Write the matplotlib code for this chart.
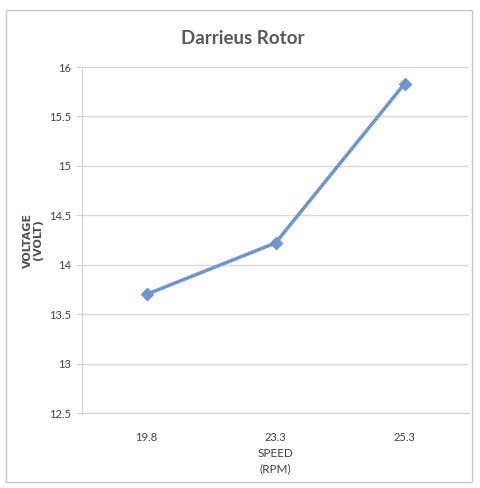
import matplotlib
matplotlib.use('Agg')
import matplotlib.pyplot as plt
from matplotlib.patches import Rectangle

plt.rcParams['font.family'] = ['Lato', 'DejaVu Sans']

speeds = ['19.8', '23.3', '25.3']
voltage = [13.7, 14.22, 15.83]
yticks = [12.5, 13, 13.5, 14, 14.5, 15, 15.5, 16]

fig = plt.figure(figsize=(4.8, 4.88), dpi=100)
# outer chart frame
fig.patches.append(Rectangle((6 / 480, 6 / 488), 466 / 480, 472 / 488,
                             transform=fig.transFigure, fill=False,
                             edgecolor='#c8c8c8', linewidth=1))

ax = fig.add_axes([82 / 480, 75 / 488, 387 / 480, 346 / 488])
x = list(range(len(speeds)))
ax.plot(x, voltage, color='#6b96cf', linewidth=2.5, marker='D',
        markersize=6, zorder=3)

ax.set_xlim(-0.5, len(speeds) - 0.5)
ax.set_ylim(12.5, 16)
ax.set_xticks(x)
ax.set_xticklabels(speeds)
ax.set_yticks(yticks)
ax.set_yticklabels([f'{v:g}' for v in yticks])
ax.grid(axis='y', color='#d9d9d9', linewidth=1)
ax.set_axisbelow(True)

for s in ['top', 'right']:
    ax.spines[s].set_visible(False)
ax.spines['left'].set_color('#d0d0d0')
ax.spines['bottom'].set_color('#d0d0d0')
ax.tick_params(axis='y', length=4, color='#d0d0d0', labelsize=8,
               labelcolor='#404040', pad=4)
ax.tick_params(axis='x', length=0, labelsize=8, labelcolor='#404040', pad=14)

fig.text(243 / 480, 1 - 38 / 488, 'Darrieus Rotor', fontsize=13.5,
         fontweight='bold', color='#595959', ha='center', va='center')
ax.set_xlabel('SPEED\n(RPM)', fontsize=8.5, color='#404040',
              linespacing=1.5, labelpad=3)
ax.set_ylabel('VOLTAGE\n(VOLT)', fontsize=8, fontweight='bold',
              color='#505050', family=['DejaVu Sans'], linespacing=1.0,
              labelpad=4)

plt.savefig('out.png', dpi=100)
